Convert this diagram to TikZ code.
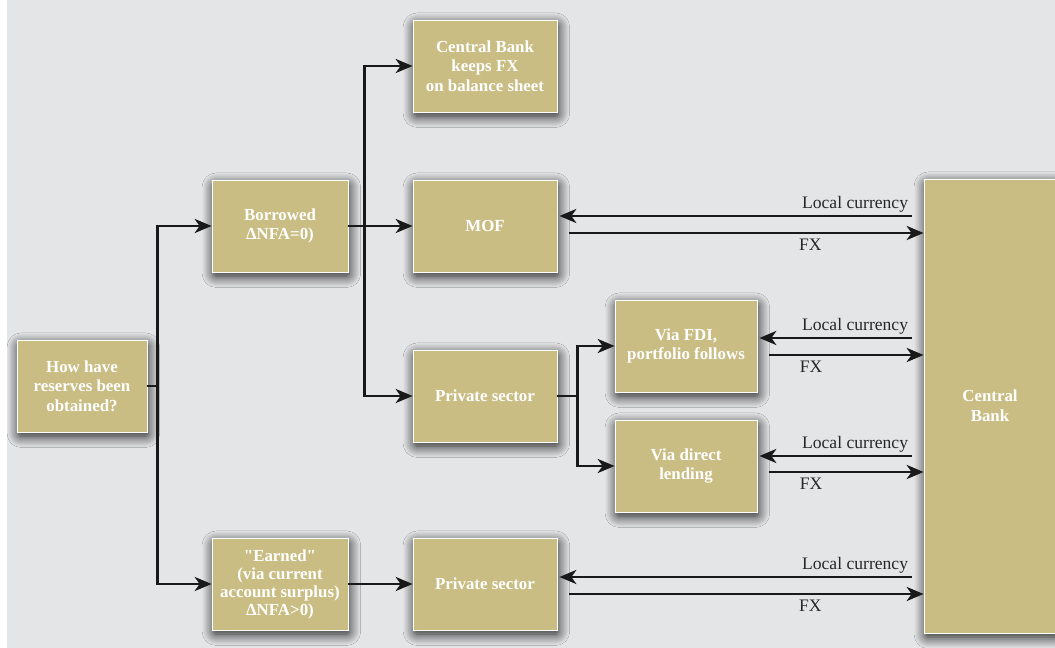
\documentclass[tikz,border=0pt]{standalone}
\usepackage{fontspec}
\setmainfont{Liberation Serif}[Ligatures=TeXOff]
\usetikzlibrary{positioning,calc,arrows.meta,shadows.blur}
\definecolor{boxtan}{HTML}{C9BD84}
\definecolor{bggray}{HTML}{E4E5E7}

\begin{document}
\begin{tikzpicture}[
    x=0.025cm, y=-0.025cm,
    box/.style={draw=white, line width=0.6pt, rectangle, fill=boxtan, text=white, align=center,
        font=\fontsize{12}{14}\selectfont\bfseries, minimum width=3.6cm, minimum height=2.3cm,
        blur shadow={shadow xshift=1pt, shadow yshift=-3pt, shadow blur radius=8pt,
            shadow blur steps=16, shadow opacity=90, shadow blur extra rounding=2pt}},
    lbl/.style={font=\fontsize{12.5}{14}\selectfont, text=black!85, inner sep=1.5pt},
    arr/.style={-{Stealth[length=12pt, width=10pt, inset=3.5pt]}, line width=2pt, black!90}
]
    % background
    \fill[bggray] (0,0) rectangle (1055,648);
    \fill[white] (0,0) rectangle (7,648);
    \useasboundingbox (0,0) rectangle (1055,648);

    \node[box, minimum width=3.25cm] (how) at (82,386) {How have\\reserves been\\obtained?};
    \node[box, minimum width=3.4cm] (borrowed) at (280,226) {Borrowed\\ΔNFA=0)};
    \node[box, minimum width=3.4cm, font=\fontsize{12}{12.8}\selectfont\bfseries] (earned) at (280,584) {"Earned"\\(via current\\account surplus)\\ΔNFA>0)};
    \node[box] (cbfx) at (485,66) {Central Bank\\keeps FX\\on balance sheet};
    \node[box] (mof) at (485,226) {MOF};
    \node[box] (privmid) at (485,396) {Private sector};
    \node[box, minimum width=3.55cm] (fdi) at (686,346) {Via FDI,\\portfolio follows};
    \node[box, minimum width=3.55cm] (lending) at (686,466) {Via direct\\lending};
    \node[box] (privlow) at (485,584) {Private sector};
    \node[box, minimum width=3.3cm, minimum height=11.35cm] (cb) at (990,406) {Central\\Bank};

    % how the reserves came in
    \draw[arr] (how.east) -- ++(10,0) |- (borrowed.west);
    \draw[arr] (how.east) -- ++(10,0) |- (earned.west);
    \draw[arr] (borrowed.east) -- ++(16,0) |- (cbfx.west);
    \draw[arr] (borrowed.east) -- (mof.west);
    \draw[arr] (borrowed.east) -- ++(16,0) |- (privmid.west);
    \draw[arr] (privmid.east) -- ++(20,0) |- (fdi.west);
    \draw[arr] (privmid.east) -- ++(20,0) |- (lending.west);
    \draw[arr] (earned.east) -- (privlow.west);

    % swaps with the central bank
    \draw[arr] ($(cb.west |- mof.east)+(-12,-10)$) -- node[lbl, pos=0, anchor=south east] {Local currency} ($(mof.east)+(2,-10)$);
    \draw[arr] ($(mof.east)+(12,7)$) -- node[lbl, pos=0.68, below=2pt] {FX} ($(cb.west |- mof.east)+(0,7)$);
    \draw[arr] ($(cb.west |- fdi.east)+(-12,-8)$) -- node[lbl, pos=0, anchor=south east] {Local currency} ($(fdi.east)+(2,-8)$);
    \draw[arr] ($(fdi.east)+(12,9)$) -- node[lbl, pos=0.27, below=2pt] {FX} ($(cb.west |- fdi.east)+(0,9)$);
    \draw[arr] ($(cb.west |- lending.east)+(-12,-10)$) -- node[lbl, pos=0, anchor=south east] {Local currency} ($(lending.east)+(2,-10)$);
    \draw[arr] ($(lending.east)+(12,6)$) -- node[lbl, pos=0.27, below=2pt] {FX} ($(cb.west |- lending.east)+(0,6)$);
    \draw[arr] ($(cb.west |- privlow.east)+(-12,-7)$) -- node[lbl, pos=0, anchor=south east] {Local currency} ($(privlow.east)+(2,-7)$);
    \draw[arr] ($(privlow.east)+(12,10)$) -- node[lbl, pos=0.68, below=2pt] {FX} ($(cb.west |- privlow.east)+(0,10)$);
\end{tikzpicture}
\end{document}
